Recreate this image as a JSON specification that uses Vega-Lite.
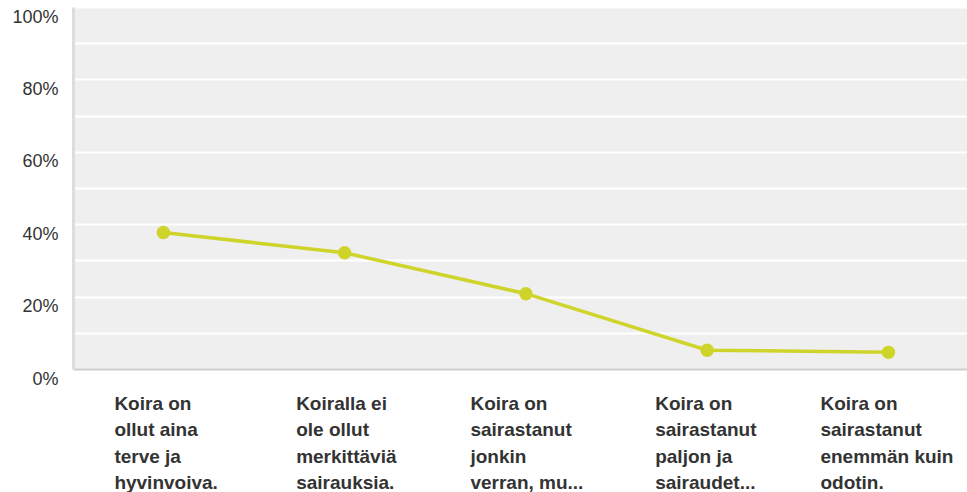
{
  "$schema": "https://vega.github.io/schema/vega-lite/v6.json",
  "autosize": "none",
  "width": 894,
  "height": 362,
  "padding": {"left": 73, "top": 7, "right": 0, "bottom": 123},
  "background": "#ffffff",
  "config": {
    "view": {"stroke": null, "fill": "#efefef"},
    "font": "Liberation Sans"
  },
  "data": {
    "values": [
      {"vastaus": "Koira on|ollut aina|terve ja|hyvinvoiva.", "osuus": 37.7},
      {"vastaus": "Koiralla ei|ole ollut|merkittäviä|sairauksia.", "osuus": 32.1},
      {"vastaus": "Koira on|sairastanut|jonkin|verran, mu...", "osuus": 20.8},
      {"vastaus": "Koira on|sairastanut|paljon ja|sairaudet...", "osuus": 5.2},
      {"vastaus": "Koira on|sairastanut|enemmän kuin|odotin.", "osuus": 4.6}
    ]
  },
  "encoding": {
    "x": {
      "field": "vastaus",
      "type": "nominal",
      "sort": null,
      "scale": {"type": "point", "padding": 0.466, "align": 0.535},
      "axis": {
        "title": null,
        "labelAngle": 0,
        "labelExpr": "split(datum.value, '|')",
        "labelAlign": "left",
        "labelBaseline": "top",
        "labelFont": "Liberation Sans",
        "labelFontWeight": "bold",
        "labelFontSize": 19,
        "labelLineHeight": 26.5,
        "labelColor": "#333333",
        "labelPadding": 25,
        "labelOverlap": false,
        "labelBound": false,
        "labelOffset": {"expr": "indexof(datum.value, 'hyvinvoiva') >= 0 ? -49.5 : indexof(datum.value, 'Koiralla') >= 0 ? -49 : indexof(datum.value, 'jonkin') >= 0 ? -56 : indexof(datum.value, 'paljon') >= 0 ? -52.5 : -68.5"},
        "ticks": false,
        "grid": false,
        "domainColor": "#cccccc",
        "domainWidth": 2
      }
    },
    "y": {
      "field": "osuus",
      "type": "quantitative",
      "scale": {"domain": [0, 100], "nice": false},
      "axis": {
        "title": null,
        "values": [0, 10, 20, 30, 40, 50, 60, 70, 80, 90, 100],
        "labelExpr": "datum.value % 20 == 0 ? datum.value + '%' : ''",
        "labelFont": "Liberation Sans",
        "labelFontSize": 18,
        "labelColor": "#333333",
        "labelPadding": 15,
        "labelOffset": 10,
        "ticks": false,
        "gridColor": "#ffffff",
        "gridWidth": 2,
        "domainColor": "#dddddd",
        "domainWidth": 3
      }
    }
  },
  "layer": [
    {
      "mark": {"type": "line", "color": "#cfd42a", "strokeWidth": 3.5}
    },
    {
      "mark": {"type": "point", "filled": true, "color": "#cfd42a", "opacity": 1, "size": 180}
    }
  ]
}
